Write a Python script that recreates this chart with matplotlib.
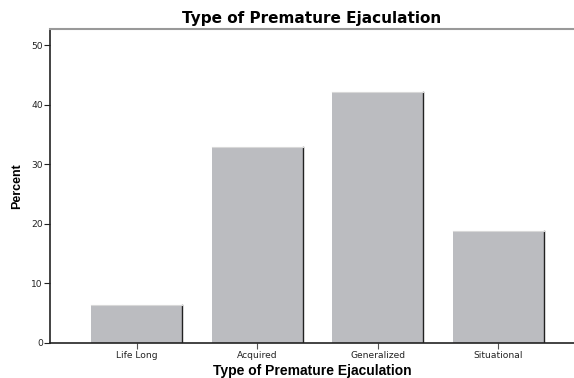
import matplotlib
matplotlib.use("Agg")
import matplotlib.pyplot as plt

categories = ["Life Long", "Acquired", "Generalized", "Situational"]
percent = [6.3, 32.9, 42.2, 18.8]
yticks = [0, 10, 20, 30, 40, 50]

plt.rcParams['font.family'] = ['Liberation Sans', 'DejaVu Sans']

fig = plt.figure(figsize=(5.74, 3.78), dpi=100)
ax = fig.add_axes([50/574, 35/378, 1 - 50/574, (343-29)/378])

x = list(range(len(categories)))
bars = ax.bar(x, percent, width=0.755, color="#bbbcc0", edgecolor="none", zorder=2)
for b in bars:
    ax.plot([b.get_x() + b.get_width()] * 2, [0, b.get_height()], color="#222222", lw=1.0, zorder=3)
    ax.plot([b.get_x(), b.get_x() + b.get_width()], [b.get_height()] * 2, color="#d8d8d8", lw=0.8, zorder=3)

ax.set_xlim(-0.72, 3.63)
ax.set_ylim(0, 52.7)
ax.set_xticks(x)
ax.set_xticklabels(categories, fontsize=6.6, color="#222222", family=['DejaVu Sans'])
ax.set_yticks(yticks)
ax.set_yticklabels([str(t) for t in yticks], fontsize=6.6, color="#222222", family=['DejaVu Sans'])
ax.tick_params(axis='x', length=4, width=0.8, color="#555555", pad=2)
ax.tick_params(axis='y', length=4, width=0.8, color="#222222", pad=1)

ax.spines['right'].set_visible(False)
ax.spines['top'].set_color("#999999")
ax.spines['top'].set_linewidth(1.5)
ax.spines['left'].set_color("#222222")
ax.spines['left'].set_linewidth(1.2)
ax.spines['bottom'].set_color("#222222")
ax.spines['bottom'].set_linewidth(1.2)

ax.set_title("Type of Premature Ejaculation", fontsize=11, fontweight='bold', pad=4,
             family=['DejaVu Sans'])
ax.set_xlabel("Type of Premature Ejaculation", fontsize=10, fontweight='bold', labelpad=3)
ax.set_ylabel("Percent", fontsize=9, fontweight='bold', labelpad=6)

fig.savefig("out.png", dpi=100)
